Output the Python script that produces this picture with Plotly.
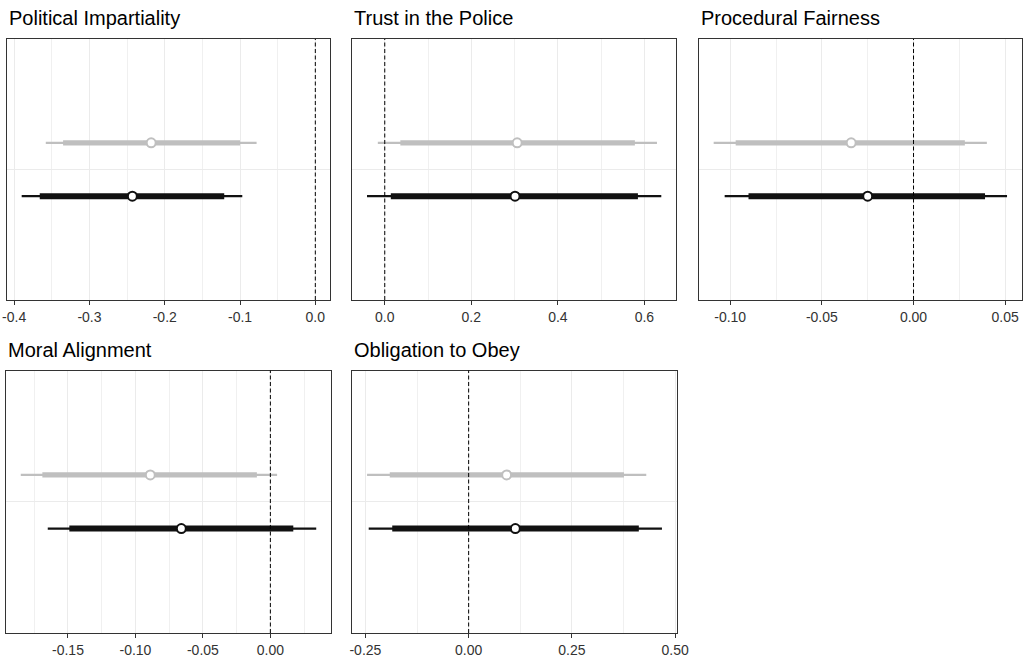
import plotly.graph_objects as go

# ---------------- data ----------------
panels = ["Political Impartiality", "Trust in the Police", "Procedural Fairness",
          "Moral Alignment", "Obligation to Obey"]

# gray series (upper row in each panel)
gray_est = [-0.218, 0.306, -0.034, -0.089, 0.092]
gray_inner_lo = [-0.335, 0.036, -0.097, -0.169, -0.191]
gray_inner_hi = [-0.100, 0.578, 0.028, -0.010, 0.376]
gray_outer_lo = [-0.358, -0.016, -0.109, -0.185, -0.246]
gray_outer_hi = [-0.078, 0.629, 0.040, 0.005, 0.430]

# black series (lower row in each panel)
black_est = [-0.243, 0.301, -0.025, -0.066, 0.113]
black_inner_lo = [-0.366, 0.014, -0.090, -0.149, -0.185]
black_inner_hi = [-0.121, 0.585, 0.039, 0.017, 0.412]
black_outer_lo = [-0.390, -0.041, -0.103, -0.165, -0.242]
black_outer_hi = [-0.097, 0.639, 0.051, 0.034, 0.468]

tick_values = [[-0.4, -0.3, -0.2, -0.1, 0.0],
               [0.0, 0.2, 0.4, 0.6],
               [-0.10, -0.05, 0.00, 0.05],
               [-0.15, -0.10, -0.05, 0.00],
               [-0.25, 0.00, 0.25, 0.50]]
tick_labels = [["-0.4", "-0.3", "-0.2", "-0.1", "0.0"],
               ["0.0", "0.2", "0.4", "0.6"],
               ["-0.10", "-0.05", "0.00", "0.05"],
               ["-0.15", "-0.10", "-0.05", "0.00"],
               ["-0.25", "0.00", "0.25", "0.50"]]
reference_value = 0.0

# ---------------- layout geometry ----------------
W, H = 1029, 657
x_dom_px = [(7, 330), (352.3, 676), (699, 1021.7), (6, 331), (352.3, 676.7)]
y_dom_px = [(39, 300), (39, 300), (39, 300), (370.5, 633), (370.5, 633)]

GRAY = "#bfbfbf"
BLACK = "#111111"
FONT = "Liberation Sans, Arial, sans-serif"

series = [
    dict(color=GRAY, est=gray_est, ilo=gray_inner_lo, ihi=gray_inner_hi,
         olo=gray_outer_lo, ohi=gray_outer_hi, thick=5.3, thin=2.2),
    dict(color=BLACK, est=black_est, ilo=black_inner_lo, ihi=black_inner_hi,
         olo=black_outer_lo, ohi=black_outer_hi, thick=6, thin=2.2),
]
dodge = 0.245
offsets = [dodge / 2, -dodge / 2]

fig = go.Figure()
layout = dict(width=W, height=H, margin=dict(l=0, r=0, t=0, b=0),
              paper_bgcolor="white", plot_bgcolor="white", showlegend=False,
              font=dict(family=FONT, color="#333333"))
annotations = []
shapes = []

for i, name in enumerate(panels):
    k = i + 1
    xa = "x" if k == 1 else f"x{k}"
    ya = "y" if k == 1 else f"y{k}"
    for s, yo in zip(series, offsets):
        fig.add_trace(go.Scatter(x=[s["olo"][i], s["ohi"][i]], y=[yo, yo], mode="lines",
                                 line=dict(color=s["color"], width=s["thin"]),
                                 xaxis=xa, yaxis=ya, hoverinfo="skip"))
        fig.add_trace(go.Scatter(x=[s["ilo"][i], s["ihi"][i]], y=[yo, yo], mode="lines",
                                 line=dict(color=s["color"], width=s["thick"]),
                                 xaxis=xa, yaxis=ya, hoverinfo="skip"))
        fig.add_trace(go.Scatter(x=[s["est"][i]], y=[yo], mode="markers",
                                 marker=dict(symbol="circle", size=9, color="white",
                                             line=dict(color=s["color"], width=2)),
                                 xaxis=xa, yaxis=ya))
    # x range: data incl. reference line, expanded by 5 %
    vals = [reference_value] + [s[key][i] for s in series for key in ("olo", "ohi")]
    lo, hi = min(vals), max(vals)
    pad = 0.05 * (hi - lo)
    step = tick_values[i][1] - tick_values[i][0]
    x0, x1 = x_dom_px[i]
    y0, y1 = y_dom_px[i]
    axname_x = "xaxis" if k == 1 else f"xaxis{k}"
    axname_y = "yaxis" if k == 1 else f"yaxis{k}"
    layout[axname_x] = dict(
        domain=[x0 / W, x1 / W], anchor=ya, range=[lo - pad, hi + pad], automargin=False,
        tickmode="array", tickvals=tick_values[i], ticktext=tick_labels[i],
        ticks="outside", ticklen=4, tickwidth=1, tickcolor="#333333",
        tickfont=dict(size=14, color="#333333", family=FONT),
        showgrid=True, gridcolor="#ebebeb", gridwidth=1,
        minor=dict(tickmode="linear", tick0=tick_values[i][0] + step / 2, dtick=step,
                   showgrid=True, gridcolor="#f0f0f0", gridwidth=1, ticks=""),
        showline=True, mirror=True, linecolor="#333333", linewidth=1,
        zeroline=False, fixedrange=True)
    layout[axname_y] = dict(
        domain=[1 - y1 / H, 1 - y0 / H], anchor=xa, range=[-0.6, 0.6], automargin=False,
        tickmode="array", tickvals=[0], showticklabels=False, ticks="",
        showgrid=True, gridcolor="#ebebeb", gridwidth=1,
        showline=True, mirror=True, linecolor="#333333", linewidth=1,
        zeroline=False, fixedrange=True)
    shapes.append(dict(type="line", xref=xa, yref=f"{ya} domain",
                       x0=reference_value, x1=reference_value, y0=0, y1=1,
                       line=dict(color="black", width=1, dash="4px,2.5px"), layer="above"))
    annotations.append(dict(text=name, xref="paper", yref="paper",
                            x=x0 / W, y=1 - (y0 - 21) / H, xanchor="left", yanchor="middle",
                            showarrow=False, font=dict(size=20, color="black", family=FONT)))

layout["annotations"] = annotations
layout["shapes"] = shapes
fig.update_layout(**layout)
fig.write_html("out.html", config={"displayModeBar": False},
               post_script="document.body.style.margin='0';document.body.style.overflow='hidden';")
